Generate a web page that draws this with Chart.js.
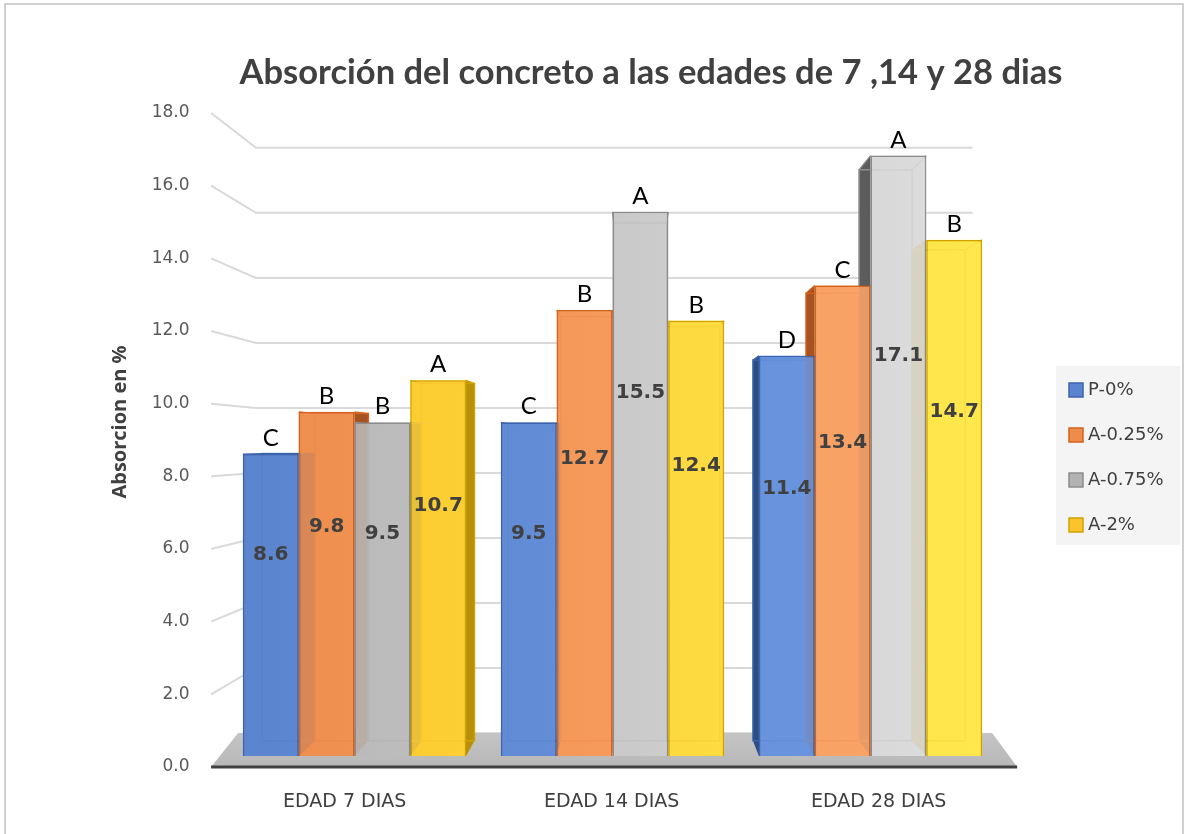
<!DOCTYPE html>
<html>
<head>
<meta charset="utf-8">
<script src="https://cdn.jsdelivr.net/npm/chart.js@4.4.1/dist/chart.umd.min.js"></script>
<style>
  html, body { margin: 0; padding: 0; background: #fff; }
  canvas { display: block; }
</style>
</head>
<body>
<canvas id="chart" width="1186" height="834"></canvas>
<script>
const categories = ['EDAD 7 DIAS', 'EDAD 14 DIAS', 'EDAD 28 DIAS'];
const seriesNames = ['P-0%', 'A-0.25%', 'A-0.75%', 'A-2%'];
const p0 = [8.6, 9.5, 11.4];
const a025 = [9.8, 12.7, 13.4];
const a075 = [9.5, 15.5, 17.1];
const a2 = [10.7, 12.4, 14.7];
// significance letters above each bar, one row per series
const lettersP0 = ['C', 'C', 'D'];
const lettersA025 = ['B', 'B', 'C'];
const lettersA075 = ['B', 'A', 'A'];
const lettersA2 = ['A', 'B', 'B'];
const yTicks = [0, 2, 4, 6, 8, 10, 12, 14, 16, 18];

const styles = [
    {lo: '#5a84cd', hi: '#6e9ae3', line: '#3b64ad', side: '#2e4c84', top: '#88abe8'},
    {lo: '#ee8c4b', hi: '#fca86c', line: '#d2631e', side: '#a65221', top: '#fdbb8c'},
    {lo: '#b2b2b2', hi: '#e0e0e0', line: '#8c8c8c', side: '#5c5c5c', top: '#e8e8e8'},
    {lo: '#fbc42a', hi: '#fee94e', line: '#cfa200', side: '#b88f08', top: '#ffe98a'}
];

// perspective: bars sit on a plane, floor edge is nearer, back wall further
const vanish = {x: 637, y: 444};
const K_BACK = 0.951;
const K_FLOOR = 1.035;
const K_WALL = 0.926;
const px = (x, k) => vanish.x + (x - vanish.x) * k;
const py = (y, k) => vanish.y + (y - vanish.y) * k;

function rgba(hex, a) {
    const n = parseInt(hex.slice(1), 16);
    return `rgba(${n >> 16},${(n >> 8) & 255},${n & 255},${a})`;
}

function frontGradient(ctx, area, st, alpha) {
    const g = ctx.createLinearGradient(area.left, 0, area.right, 0);
    g.addColorStop(0, rgba(st.lo, alpha));
    g.addColorStop(1, rgba(st.hi, alpha));
    return g;
}

function frontFill(di) {
    return (c) => {
        const area = c.chart.chartArea;
        if (!area) return styles[di].lo;
        return frontGradient(c.chart.ctx, area, styles[di], 0.88);
    };
}

function poly(ctx, pts, fill) {
    ctx.beginPath();
    pts.forEach(([x, y], i) => i ? ctx.lineTo(x, y) : ctx.moveTo(x, y));
    ctx.closePath();
    ctx.fillStyle = fill;
    ctx.fill();
}

const frame = {
    id: 'frame',
    beforeDraw(chart) {
        const {ctx} = chart;
        ctx.save();
        ctx.fillStyle = '#fff';
        ctx.fillRect(0, 0, chart.width, chart.height);
        ctx.strokeStyle = '#d0d0d0';
        ctx.lineWidth = 2;
        ctx.strokeRect(5, 4, 1178, 840);

        ctx.fillStyle = '#404040';
        ctx.textAlign = 'center';
        ctx.textBaseline = 'alphabetic';
        ctx.font = 'bold 35px Lato';
        ctx.fillText('Absorción del concreto a las edades de 7 ,14 y 28 dias', 651, 84, 823);

        // axis title
        ctx.save();
        ctx.translate(126, 422);
        ctx.rotate(-Math.PI / 2);
        ctx.font = 'bold 20px "Open Sans"';
        ctx.fillStyle = '#404040';
        ctx.fillText('Absorcion en %', 0, 0);
        ctx.restore();

        // category labels on the floor edge
        const xs = chart.scales.x;
        ctx.font = '19px "DejaVu Sans"';
        ctx.fillStyle = '#404040';
        categories.forEach((c, i) => {
            ctx.fillText(c, px(xs.getPixelForValue(i), K_FLOOR), 807);
        });

        // legend
        ctx.fillStyle = '#f4f4f4';
        ctx.fillRect(1056, 366, 124, 179);
        ctx.textAlign = 'left';
        ctx.textBaseline = 'middle';
        ctx.font = '18px "DejaVu Sans"';
        seriesNames.forEach((name, i) => {
            const yy = 390 + i * 45;
            ctx.fillStyle = styles[i].lo;
            ctx.fillRect(1069, yy - 7, 14, 14);
            ctx.strokeStyle = styles[i].line;
            ctx.lineWidth = 1.5;
            ctx.strokeRect(1069, yy - 7, 14, 14);
            ctx.fillStyle = '#404040';
            ctx.fillText(name, 1088, yy);
        });
        ctx.restore();
    },
    beforeDatasetsDraw(chart) {
        const {ctx, chartArea: a, scales: {y}} = chart;
        ctx.save();
        const fl = px(a.left, K_FLOOR);
        const fr = px(a.right, K_FLOOR);
        const wallRight = px(a.right, K_WALL);
        const kw = K_WALL / K_FLOOR;

        // back wall gridlines
        ctx.strokeStyle = '#d9d9d9';
        ctx.lineWidth = 2;
        yTicks.forEach(v => {
            const yf = y.getPixelForValue(v);
            ctx.beginPath();
            ctx.moveTo(fl, yf);
            ctx.lineTo(px(fl, kw), py(yf, kw));
            ctx.lineTo(wallRight, py(yf, kw));
            ctx.stroke();
        });

        // floor
        const y0 = y.getPixelForValue(0);
        const yb = py(y0, kw);
        const g = ctx.createLinearGradient(0, yb, 0, y0);
        g.addColorStop(0, '#c4c4c4');
        g.addColorStop(1, '#b8b8b8');
        poly(ctx, [[fl, y0], [fr + 5, y0], [fr - 20, yb], [fl + 27, yb]], g);
        ctx.strokeStyle = '#404040';
        ctx.lineWidth = 3;
        ctx.beginPath();
        ctx.moveTo(fl, y0);
        ctx.lineTo(fr + 5, y0);
        ctx.stroke();

        const boxes = [];
        chart.data.datasets.forEach((ds, di) => {
            chart.getDatasetMeta(di).data.forEach(el => {
                const p = el.getProps(['x', 'y', 'base', 'width'], true);
                const L = p.x - p.width / 2, R = p.x + p.width / 2, T = p.y, B = p.base;
                boxes.push({st: styles[di], L, R, T, B,
                    bL: px(L, K_BACK), bR: px(R, K_BACK), bT: py(T, K_BACK), bB: py(B, K_BACK)});
            });
        });

        // solid body behind each translucent front face
        boxes.forEach(b => {
            ctx.fillStyle = frontGradient(ctx, a, b.st, 1);
            ctx.fillRect(b.L, b.T, b.R - b.L, b.B - b.T);
        });

        // hidden back edges, side and top faces
        boxes.forEach(b => {
            if (b.bL < b.L) poly(ctx, [[b.L, b.T], [b.bL, b.bT], [b.bL, b.bB], [b.L, b.B]], b.st.side);
            if (b.bR > b.R) poly(ctx, [[b.R, b.T], [b.bR, b.bT], [b.bR, b.bB], [b.R, b.B]], b.st.side);
            if (b.bT < b.T - 0.5) poly(ctx, [[b.L, b.T], [b.R, b.T], [b.bR, b.bT], [b.bL, b.bT]], b.st.top);
            ctx.strokeStyle = b.st.line;
            ctx.lineWidth = 1.5;
            ctx.strokeRect(b.bL, b.bT, b.bR - b.bL, b.bB - b.bT);
            ctx.lineWidth = 1.2;
            ctx.beginPath();
            ctx.moveTo(b.L, b.T); ctx.lineTo(b.bL, b.bT);
            ctx.moveTo(b.R, b.T); ctx.lineTo(b.bR, b.bT);
            ctx.stroke();
        });
        ctx.restore();
    },
    afterDatasetsDraw(chart) {
        const {ctx} = chart;
        const letters = [lettersP0, lettersA025, lettersA075, lettersA2];
        ctx.save();
        ctx.textAlign = 'center';
        chart.data.datasets.forEach((ds, di) => {
            chart.getDatasetMeta(di).data.forEach((el, i) => {
                const {x, y: top, base} = el.getProps(['x', 'y', 'base'], true);
                ctx.font = 'bold 20px "DejaVu Sans"';
                ctx.fillStyle = '#404040';
                ctx.textBaseline = 'middle';
                ctx.fillText(ds.data[i].toFixed(1), x, top + (base - top) / 3);
                ctx.font = '24px Lato';
                ctx.fillStyle = '#000';
                ctx.textBaseline = 'alphabetic';
                ctx.fillText(letters[di][i], x, top - 8);
            });
        });
        ctx.restore();
    }
};

const values = [p0, a025, a075, a2];

new Chart(document.getElementById('chart'), {
    type: 'bar',
    data: {
        labels: categories,
        datasets: seriesNames.map((name, i) => ({
            label: name,
            data: values[i],
            yAxisID: 'yBar',
            backgroundColor: frontFill(i),
            borderColor: styles[i].line,
            borderWidth: 1.5,
            categoryPercentage: 0.865,
            barPercentage: 1.0
        }))
    },
    options: {
        responsive: false,
        animation: false,
        devicePixelRatio: 1,
        layout: {padding: {left: 0, right: 186.5, top: 113, bottom: 67}},
        plugins: {
            legend: {display: false},
            title: {display: false},
            tooltip: {enabled: false}
        },
        scales: {
            x: {display: false, offset: true},
            y: {
                min: 0,
                max: 18,
                afterBuildTicks: s => { s.ticks = yTicks.map(v => ({value: v})); },
                afterFit: s => { s.width = 225.5; },
                grid: {display: false, drawTicks: false},
                border: {display: false},
                ticks: {
                    padding: 36,
                    color: '#595959',
                    font: {family: 'DejaVu Sans', size: 17},
                    callback: v => v.toFixed(1)
                }
            },
            // bars stand a little behind the floor edge, so their scale is tighter
            yBar: {display: false, min: -0.313, max: 18.314}
        }
    },
    plugins: [frame]
});
</script>
</body>
</html>
